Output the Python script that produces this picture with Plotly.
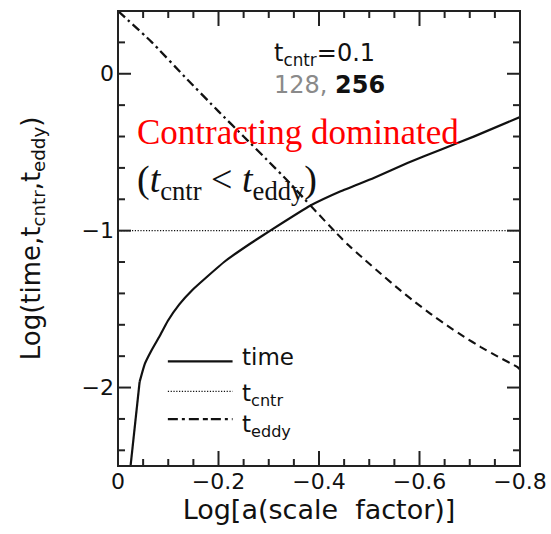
import plotly.graph_objects as go

# Log of the scale factor (x) and log time scales (y)
time_steep_x = [-0.025, -0.043]
time_steep_y = [-2.50, -1.964]
time_x = [-0.043, -0.053, -0.066, -0.083, -0.099, -0.122, -0.149, -0.175, -0.213,
          -0.262, -0.303, -0.383, -0.443, -0.509, -0.576, -0.642, -0.709, -0.80]
time_y = [-1.964, -1.852, -1.767, -1.672, -1.576, -1.470, -1.375, -1.300, -1.195,
          -1.085, -1.000, -0.840, -0.749, -0.664, -0.569, -0.484, -0.399, -0.276]

cntr_x = [0.0, -0.80]
cntr_y = [-1.0, -1.0]

eddy_x_early = [0.0, -0.066, -0.133, -0.20, -0.25, -0.30, -0.337, -0.383]
eddy_y_early = [0.40, 0.205, -0.02, -0.24, -0.40, -0.56, -0.68, -0.84]
eddy_x_late = [-0.383, -0.430, -0.456, -0.489, -0.523, -0.556, -0.589, -0.622,
               -0.656, -0.689, -0.722, -0.756, -0.795, -0.80]
eddy_y_late = [-0.840, -1.000, -1.085, -1.180, -1.275, -1.365, -1.450, -1.530,
               -1.607, -1.677, -1.742, -1.803, -1.870, -1.885]

# Axis ranges and tick positions
x_range = [0.0, -0.8]
y_range = [-2.5, 0.4]
x_major = [0.0, -0.2, -0.4, -0.6, -0.8]
x_minor = [-0.05, -0.10, -0.15, -0.25, -0.30, -0.35, -0.45, -0.50, -0.55,
           -0.65, -0.70, -0.75]
y_major = [0.0, -1.0, -2.0]
y_minor = [0.2, -0.2, -0.4, -0.6, -0.8, -1.2, -1.4, -1.6, -1.8, -2.2, -2.4]

INK = "#111111"
FRAME = "#222222"
SANS = "DejaVu Sans"
SERIF = "Liberation Serif"

fig = go.Figure()
fig.add_trace(go.Scatter(x=time_steep_x, y=time_steep_y, mode="lines",
                         line=dict(color=INK, width=2.2)))
fig.add_trace(go.Scatter(x=time_x, y=time_y, mode="lines",
                         line=dict(color=INK, width=2.2, shape="spline", smoothing=0.4)))
fig.add_trace(go.Scatter(x=cntr_x, y=cntr_y, mode="lines",
                         line=dict(color=INK, width=1.3, dash="1.2px,1.6px")))
fig.add_trace(go.Scatter(x=eddy_x_early, y=eddy_y_early, mode="lines",
                         line=dict(color=INK, width=2.3, dash="9px,4px,2.5px,4px",
                                   shape="spline", smoothing=0.4)))
fig.add_trace(go.Scatter(x=eddy_x_late, y=eddy_y_late, mode="lines",
                         line=dict(color=INK, width=2.1, dash="8px,5px",
                                   shape="spline", smoothing=0.4)))

fig.update_layout(
    xaxis=dict(
        range=x_range, tickvals=x_major, ticks="", showline=False,
        showgrid=False, zeroline=False, automargin=False,
        tickfont=dict(family=SANS, size=22, color=INK),
        title=dict(text="Log[a(scale  factor)]", font=dict(family=SANS, size=27, color=INK),
                   standoff=4),
    ),
    yaxis=dict(
        range=y_range, tickvals=y_major, ticks="", showline=False,
        showgrid=False, zeroline=False, automargin=False, ticklabelstandoff=3,
        tickfont=dict(family=SANS, size=22, color=INK),
        title=dict(text="Log(time,t<sub>cntr</sub>,t<sub>eddy</sub>)",
                   font=dict(family=SANS, size=26, color=INK), standoff=33),
    ),
)

# Plot frame with inward ticks on all four sides
tick_line = dict(color=FRAME, width=2)
shapes = [dict(type="rect", xref="paper", yref="paper", x0=0, x1=1, y0=0, y1=1,
               line=dict(color=FRAME, width=2), layer="above")]
for vals, length in ((x_major, 15), (x_minor, 7)):
    for v in vals:
        for anchor, sign in ((0, 1), (1, -1)):
            shapes.append(dict(type="line", xref="x", x0=v, x1=v, yref="paper",
                               ysizemode="pixel", yanchor=anchor, y0=0, y1=sign * length,
                               line=tick_line, layer="above"))
for vals, length in ((y_major, 13), (y_minor, 7)):
    for v in vals:
        for anchor, sign in ((0, 1), (1, -1)):
            shapes.append(dict(type="line", yref="y", y0=v, y1=v, xref="paper",
                               xsizemode="pixel", xanchor=anchor, x0=0, x1=sign * length,
                               line=tick_line, layer="above"))

# Key samples for the three curves
key_x0, key_x1 = 0.124, 0.285
shapes += [
    dict(type="line", xref="paper", yref="paper", x0=key_x0, x1=key_x1, y0=0.230, y1=0.230,
         line=dict(color=INK, width=2.2)),
    dict(type="line", xref="paper", yref="paper", x0=key_x0, x1=key_x1, y0=0.164, y1=0.164,
         line=dict(color=INK, width=1.3, dash="1.2px,1.6px")),
    dict(type="line", xref="paper", yref="paper", x0=key_x0, x1=key_x1, y0=0.103, y1=0.103,
         line=dict(color=INK, width=2.4, dash="10px,4px,3px,4px,10px,4px,5px,3px")),
]

annotations = [
    dict(x=0.382, y=0.905, text="t<sub>cntr</sub>=0.1", font=dict(family=SANS, size=24, color=INK)),
    dict(x=0.382, y=0.838, text="<span style='color:#8a8a8a'>128,</span> <b>256</b>",
         font=dict(family=SANS, size=24, color=INK)),
    dict(x=0.043, y=0.732, text="Contracting dominated", font=dict(family=SERIF, size=35, color="#ff0000")),
    dict(x=0.043, y=0.625,
         text="(<i>t</i><sub>cntr</sub>&#160;&lt;&#160;<i>t</i><sub>eddy</sub>)",
         font=dict(family=SERIF, size=38, color=INK)),
    dict(x=0.303, y=0.240, text="time", font=dict(family=SANS, size=23, color=INK)),
    dict(x=0.303, y=0.156, text="t<sub>cntr</sub>", font=dict(family=SANS, size=23, color=INK)),
    dict(x=0.303, y=0.088, text="t<sub>eddy</sub>", font=dict(family=SANS, size=23, color=INK)),
]
for a in annotations:
    a.update(xref="paper", yref="paper", xanchor="left", yanchor="middle", showarrow=False)

fig.update_layout(
    width=551, height=534,
    margin=dict(l=118, r=31, t=11, b=68),
    paper_bgcolor="white", plot_bgcolor="white",
    annotations=annotations, shapes=shapes, showlegend=False,
)

fig.write_html("out.html")
